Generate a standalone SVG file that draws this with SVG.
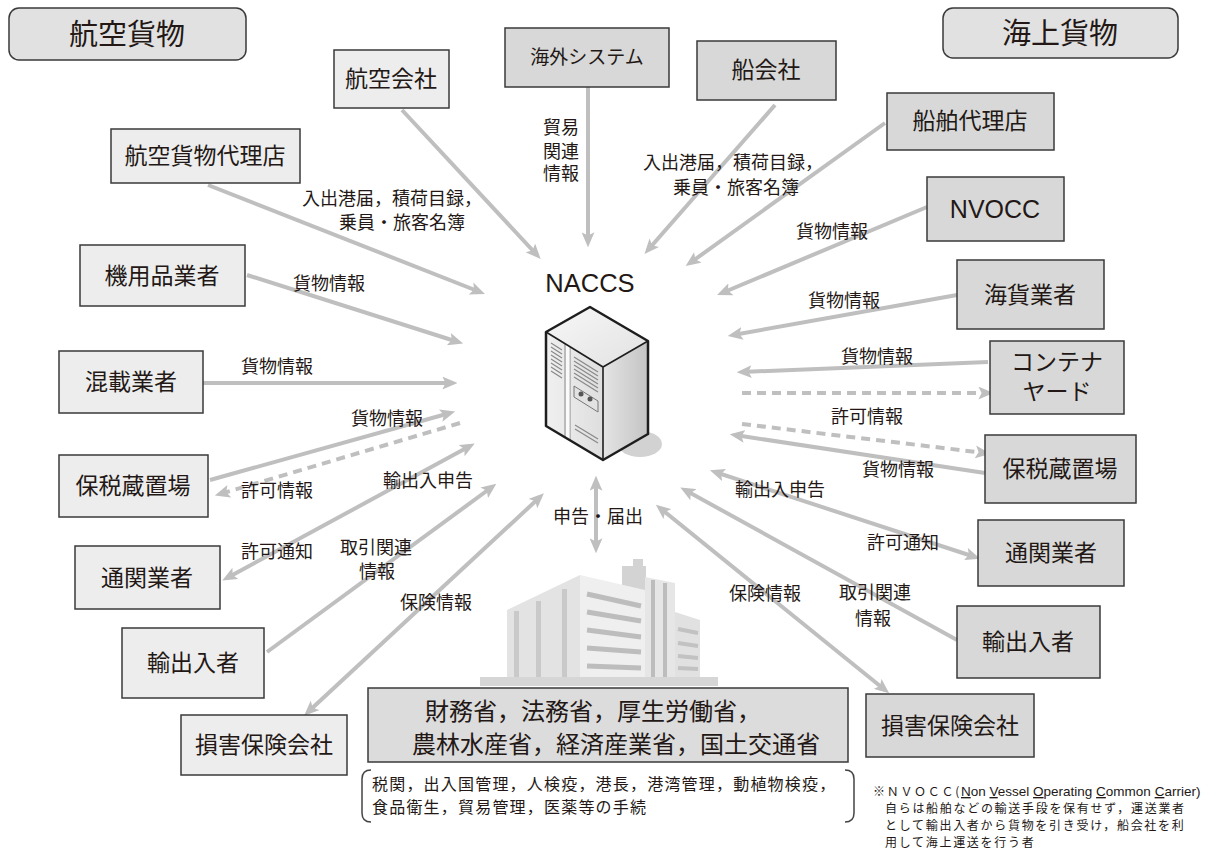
<svg xmlns="http://www.w3.org/2000/svg" width="1224" height="852" viewBox="0 0 1224 852">
  <defs>
    <style>
      .jp { font-family: "Noto Sans CJK JP", "Noto Sans", sans-serif; fill: #231815; }
      .en { font-family: "Liberation Sans", Arial, sans-serif; fill: #231815; }
      .node { font-size: 23px; text-anchor: middle; }
      .lbl { font-size: 18px; text-anchor: middle; }
      .boxL { fill: #ededed; stroke: #3a3a3a; stroke-width: 1.5; }
      .boxR { fill: #d8d8d8; stroke: #3a3a3a; stroke-width: 1.5; }
      .hdr { fill: #e1e1e1; stroke: #3a3a3a; stroke-width: 1.5; }
      .ln { stroke: #bfbfbf; stroke-width: 4; fill: none; }
      .dash { stroke-dasharray: 9 6; }
      .one { marker-end: url(#ah); }
      .two { marker-start: url(#ah); marker-end: url(#ah); }
    </style>
    <marker id="ah" viewBox="0 0 14 12" refX="9" refY="6" markerWidth="15" markerHeight="13" markerUnits="userSpaceOnUse" orient="auto-start-reverse">
      <path d="M0,0 L14,6 L0,12 L3,6 z" fill="#bfbfbf"/>
    </marker>
    <linearGradient id="srvTop" x1="0" y1="0" x2="1" y2="1">
      <stop offset="0" stop-color="#f7f7f7"/>
      <stop offset="1" stop-color="#e2e2e2"/>
    </linearGradient>
    <linearGradient id="srvSide" x1="0" y1="0" x2="1" y2="0">
      <stop offset="0" stop-color="#e4e4e4"/>
      <stop offset="1" stop-color="#c4c4c4"/>
    </linearGradient>
    <linearGradient id="srvFront" x1="0" y1="0" x2="1" y2="0">
      <stop offset="0" stop-color="#f0f0f0"/>
      <stop offset="1" stop-color="#dedede"/>
    </linearGradient>
  </defs>

  <rect x="0" y="0" width="1224" height="852" fill="#ffffff"/>

  <!-- connectors -->
  <g id="connectors">
    <!-- air cargo side -->
    <line class="ln one" x1="402" y1="110" x2="537" y2="255"/>
    <line class="ln one" x1="208" y1="185" x2="480" y2="292"/>
    <line class="ln one" x1="247" y1="275" x2="458" y2="342"/>
    <line class="ln one" x1="203" y1="383" x2="452" y2="383"/>
    <line class="ln one" x1="210" y1="480" x2="450" y2="413"/>
    <line class="ln one dash" x1="460" y1="423" x2="220" y2="494"/>
    <line class="ln two" x1="470" y1="446" x2="227" y2="578"/>
    <line class="ln one" x1="267" y1="652" x2="492" y2="487"/>
    <line class="ln two" x1="540" y1="497" x2="308" y2="712"/>
    <!-- overseas system -->
    <line class="ln one" x1="588" y1="87" x2="588" y2="242"/>
    <!-- sea cargo side -->
    <line class="ln one" x1="775" y1="105" x2="648" y2="250"/>
    <line class="ln one" x1="885" y1="123" x2="690" y2="263"/>
    <line class="ln one" x1="927" y1="207" x2="722" y2="293"/>
    <line class="ln one" x1="957" y1="295" x2="733" y2="335"/>
    <line class="ln one" x1="988" y1="362" x2="742" y2="372"/>
    <line class="ln one dash" x1="742" y1="393" x2="988" y2="393"/>
    <line class="ln one dash" x1="742" y1="424" x2="985" y2="453"/>
    <line class="ln one" x1="985" y1="473" x2="735" y2="435"/>
    <line class="ln two" x1="715" y1="472" x2="975" y2="557"/>
    <line class="ln one" x1="957" y1="640" x2="685" y2="490"/>
    <line class="ln two" x1="660" y1="508" x2="885" y2="690"/>
    <!-- ministries -->
    <line class="ln two" x1="596" y1="481" x2="596" y2="548"/>
  </g>

  <!-- connector labels -->
  <g id="labels" class="jp lbl">
    <text x="392" y="205">入出港届，積荷目録，<tspan x="402" dy="24">乗員・旅客名簿</tspan></text>
    <text x="329" y="290">貨物情報</text>
    <text x="277" y="373">貨物情報</text>
    <text x="387" y="425">貨物情報</text>
    <text x="277" y="497">許可情報</text>
    <text x="428" y="487">輸出入申告</text>
    <text x="277" y="558">許可通知</text>
    <text x="376" y="554">取引関連<tspan x="377" dy="24">情報</tspan></text>
    <text x="436" y="609">保険情報</text>
    <text x="561" y="134">貿易<tspan x="561" dy="24">関連</tspan><tspan x="561" dy="22">情報</tspan></text>
    <text x="733" y="169">入出港届，積荷目録，<tspan x="736" dy="25">乗員・旅客名簿</tspan></text>
    <text x="832" y="238">貨物情報</text>
    <text x="844" y="307">貨物情報</text>
    <text x="877" y="363">貨物情報</text>
    <text x="867" y="423">許可情報</text>
    <text x="898" y="476">貨物情報</text>
    <text x="780" y="496">輸出入申告</text>
    <text x="903" y="549">許可通知</text>
    <text x="765" y="600">保険情報</text>
    <text x="875" y="599">取引関連<tspan x="873" dy="26">情報</tspan></text>
    <text x="598" y="523">申告・届出</text>
  </g>

  <!-- section headers -->
  <g id="hdr-air">
    <rect class="hdr" x="9" y="8" width="237" height="52" rx="10"/>
    <text class="jp" x="127" y="45" font-size="29" text-anchor="middle">航空貨物</text>
  </g>
  <g id="hdr-sea">
    <rect class="hdr" x="943" y="8" width="235" height="50" rx="10"/>
    <text class="jp" x="1060" y="44" font-size="29" text-anchor="middle">海上貨物</text>
  </g>

  <!-- air cargo parties -->
  <g id="air-airline">
    <rect class="boxL" x="334" y="50" width="115" height="58"/>
    <text class="jp node" x="391" y="87">航空会社</text>
  </g>
  <g id="air-agent">
    <rect class="boxL" x="111" y="129" width="189" height="54"/>
    <text class="jp node" x="205" y="164">航空貨物代理店</text>
  </g>
  <g id="air-supplies">
    <rect class="boxL" x="80" y="245" width="165" height="61"/>
    <text class="jp node" x="162" y="284">機用品業者</text>
  </g>
  <g id="air-consolidator">
    <rect class="boxL" x="59" y="351" width="144" height="62"/>
    <text class="jp node" x="131" y="390">混載業者</text>
  </g>
  <g id="air-bonded">
    <rect class="boxL" x="59" y="455" width="149" height="62"/>
    <text class="jp node" x="133" y="494">保税蔵置場</text>
  </g>
  <g id="air-broker">
    <rect class="boxL" x="75" y="546" width="145" height="63"/>
    <text class="jp node" x="147" y="586">通関業者</text>
  </g>
  <g id="air-trader">
    <rect class="boxL" x="122" y="628" width="142" height="70"/>
    <text class="jp node" x="193" y="671">輸出入者</text>
  </g>
  <g id="air-insurer">
    <rect class="boxL" x="181" y="715" width="166" height="60"/>
    <text class="jp node" x="264" y="753">損害保険会社</text>
  </g>

  <!-- overseas system -->
  <g id="overseas">
    <rect class="boxR" x="505" y="28" width="164" height="59"/>
    <text class="jp" x="587" y="64" font-size="19" text-anchor="middle">海外システム</text>
  </g>

  <!-- sea cargo parties -->
  <g id="sea-line">
    <rect class="boxR" x="697" y="41" width="139" height="59"/>
    <text class="jp node" x="766" y="78">船会社</text>
  </g>
  <g id="sea-agent">
    <rect class="boxR" x="887" y="93" width="167" height="57"/>
    <text class="jp node" x="970" y="129">船舶代理店</text>
  </g>
  <g id="sea-nvocc">
    <rect class="boxR" x="927" y="177" width="137" height="64"/>
    <text class="en" x="995" y="218" font-size="25" text-anchor="middle">NVOCC</text>
  </g>
  <g id="sea-forwarder">
    <rect class="boxR" x="957" y="260" width="147" height="69"/>
    <text class="jp node" x="1030" y="303">海貨業者</text>
  </g>
  <g id="sea-yard">
    <rect class="boxR" x="990" y="341" width="134" height="73"/>
    <text class="jp node" x="1057" y="370">コンテナ<tspan x="1057" dy="30">ヤード</tspan></text>
  </g>
  <g id="sea-bonded">
    <rect class="boxR" x="985" y="435" width="151" height="68"/>
    <text class="jp node" x="1060" y="477">保税蔵置場</text>
  </g>
  <g id="sea-broker">
    <rect class="boxR" x="978" y="520" width="146" height="66"/>
    <text class="jp node" x="1051" y="561">通関業者</text>
  </g>
  <g id="sea-trader">
    <rect class="boxR" x="957" y="606" width="143" height="72"/>
    <text class="jp node" x="1028" y="650">輸出入者</text>
  </g>
  <g id="sea-insurer">
    <rect class="boxR" x="866" y="694" width="168" height="63"/>
    <text class="jp node" x="950" y="734">損害保険会社</text>
  </g>

  <!-- NACCS server -->
  <g id="naccs">
    <text class="en" x="590" y="292" font-size="25.5" text-anchor="middle">NACCS</text>
    <ellipse cx="640" cy="444" rx="22" ry="13" fill="#d2d2d2"/>
    <polygon points="546,332 590,307 648,341 603,367" fill="url(#srvTop)"/>
    <polygon points="546,332 603,367 603,460 546,426" fill="url(#srvFront)"/>
    <polygon points="603,367 648,341 648,434 603,460" fill="url(#srvSide)"/>
    <!-- split between side panel and door -->
    <path d="M565,344 L565,438 M570,347 L570,441" stroke="#9a9a9a" stroke-width="1.2"/>
    <rect x="566" y="345" width="3.5" height="95" fill="#fafafa"/>
    <!-- vents -->
    <g stroke="#8a8a8a" stroke-width="1.3">
      <path d="M551,343 L562,350 M551,347 L562,354 M551,351 L562,358 M551,355 L562,362 M551,359 L562,366 M551,363 L562,370 M551,367 L562,374 M551,371 L562,378"/>
      <path d="M574,357 L598,372 M574,361 L598,376 M574,365 L598,380 M574,369 L598,384 M574,373 L598,388 M574,377 L598,392"/>
      <path d="M575,425 L598,439 M575,429 L598,443"/>
    </g>
    <polygon points="574,386 598,401 598,412 574,397" fill="#e2e2e2" stroke="#777" stroke-width="1"/>
    <circle cx="581" cy="394" r="2.5" fill="#555"/>
    <circle cx="590" cy="399" r="2.5" fill="#555"/>
    <!-- outline -->
    <polygon points="546,332 590,307 648,341 648,434 603,460 546,426" fill="none" stroke="#1e1e1e" stroke-width="2.5" stroke-linejoin="round"/>
    <path d="M546,332 L603,367 L648,341 M603,367 L603,460" fill="none" stroke="#1e1e1e" stroke-width="1.6"/>
  </g>

  <!-- ministries building -->
  <g id="building">
    <polygon points="507,677 507,610 580,575 580,677" fill="#e3e3e3"/>
    <g fill="#c9c9c9">
      <rect x="514" y="611" width="5" height="66"/>
      <rect x="536" y="601" width="5" height="76"/>
      <rect x="562" y="589" width="5" height="88"/>
    </g>
    <rect x="622" y="566" width="24" height="30" fill="#d3d3d3"/>
    <rect x="633" y="559" width="10" height="9" fill="#d3d3d3"/>
    <polygon points="580,575 645,590 645,677 580,677" fill="#efefef"/>
    <g stroke="#bdbdbd" stroke-width="5">
      <line x1="587" y1="594" x2="641" y2="606"/>
      <line x1="587" y1="612" x2="641" y2="621"/>
      <line x1="587" y1="630" x2="641" y2="637"/>
      <line x1="587" y1="648" x2="641" y2="652"/>
      <line x1="587" y1="666" x2="641" y2="668"/>
    </g>
    <polygon points="645,577 675,583 675,677 645,677" fill="#e6e6e6"/>
    <rect x="651" y="580" width="4" height="97" fill="#bdbdbd"/>
    <rect x="663" y="583" width="4" height="94" fill="#bdbdbd"/>
    <polygon points="675,612 700,620 700,677 675,677" fill="#e1e1e1"/>
    <g stroke="#c2c2c2" stroke-width="4">
      <line x1="678" y1="629" x2="698" y2="633"/>
      <line x1="678" y1="643" x2="698" y2="646"/>
      <line x1="678" y1="656" x2="698" y2="658"/>
      <line x1="678" y1="668" x2="698" y2="669"/>
    </g>
    <rect x="480" y="677" width="238" height="9" fill="#d6d6d6"/>
  </g>

  <!-- ministries -->
  <g id="ministries">
    <rect x="368" y="688" width="480" height="74" fill="#dcdcdc" stroke="#3a3a3a" stroke-width="1.5"/>
    <text class="jp" x="425" y="720" font-size="24">財務省，法務省，厚生労働省，</text>
    <text class="jp" x="412" y="753" font-size="24">農林水産省，経済産業省，国土交通省</text>
  </g>

  <!-- procedures -->
  <g id="procedures">
    <path d="M371,770 Q362,770 362,779 L362,813 Q362,822 371,822" fill="none" stroke="#444" stroke-width="1.5"/>
    <path d="M845,770 Q854,770 854,779 L854,813 Q854,822 845,822" fill="none" stroke="#444" stroke-width="1.5"/>
    <text class="jp" x="372" y="790" font-size="16" letter-spacing="1.2">税関，出入国管理，人検疫，港長，港湾管理，動植物検疫，</text>
    <text class="jp" x="372" y="813" font-size="16" letter-spacing="1.2">食品衛生，貿易管理，医薬等の手続</text>
  </g>

  <!-- footnote -->
  <g id="note" class="jp" font-size="12">
    <text x="873" y="796" letter-spacing="1.7">※ＮＶＯＣＣ(<tspan class="en" font-size="13.5" letter-spacing="0"><tspan text-decoration="underline">N</tspan>on <tspan text-decoration="underline">V</tspan>essel <tspan text-decoration="underline">O</tspan>perating <tspan text-decoration="underline">C</tspan>ommon <tspan text-decoration="underline">C</tspan>arrier)</tspan></text>
    <text x="885" y="813" letter-spacing="1.7">自らは船舶などの輸送手段を保有せず，運送業者</text>
    <text x="885" y="830" letter-spacing="1.7">として輸出入者から貨物を引き受け，船会社を利</text>
    <text x="885" y="847" letter-spacing="1.7">用して海上運送を行う者</text>
  </g>
</svg>
